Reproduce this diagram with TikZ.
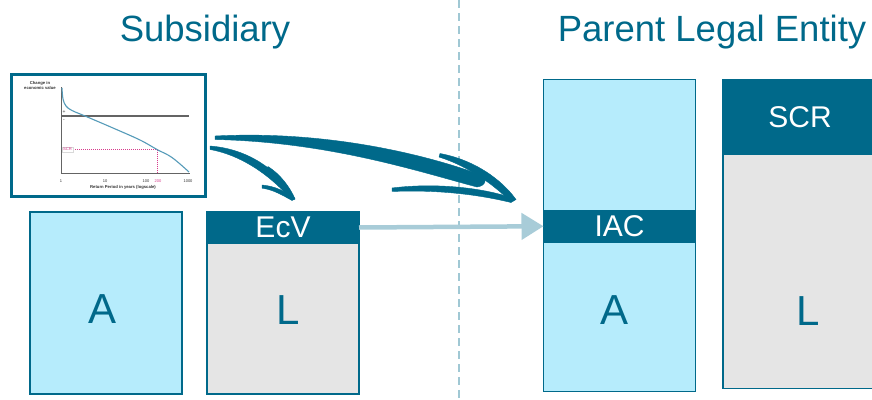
\documentclass[tikz,border=0pt]{standalone}
\usepackage{fontspec}
\setmainfont{Liberation Sans}
\usetikzlibrary{arrows.meta}
\definecolor{teal}{RGB}{0,105,138}
\definecolor{lightblue}{RGB}{182,236,252}
\definecolor{grayfill}{RGB}{229,229,229}
\definecolor{arrowgray}{RGB}{168,204,216}
\definecolor{divider}{RGB}{160,200,212}
\definecolor{curveblue}{RGB}{85,155,185}
\definecolor{scrpink}{RGB}{215,60,140}
\definecolor{axisgray}{RGB}{100,100,100}
\tikzset{
  box/.style={draw=teal, line width=1.8pt, anchor=north west, inner sep=0pt, outer sep=0pt},
  assetbox/.style={box, fill=lightblue},
  liabbox/.style={box, fill=grayfill},
  band/.style={box, fill=teal},
  title/.style={text=teal, font=\fontsize{36.5}{36.5}\selectfont, anchor=base},
  big/.style={text=teal, font=\fontsize{42}{42}\selectfont},
  bandtext/.style={text=white, font=\fontsize{30}{30}\selectfont},
  tiny/.style={font=\fontsize{4.2}{4.6}\selectfont\bfseries, text=black!80, inner sep=0pt, align=center},
  brush/.style={fill=teal, draw=teal, line width=0.4pt, line join=round},
}
\begin{document}
\begin{tikzpicture}[x=1pt, y=-1pt]
\useasboundingbox (0,0) rectangle (872,399);

% divider between the two entities
\draw[divider, line width=1.6pt, dash pattern=on 8pt off 5pt] (459,0) -- (459,399);

% titles
\node[title] (tsub) at (205,41) {Subsidiary};
\node[title] (tpar) at (712,41) {Parent Legal Entity};

% subsidiary balance sheet
\node[assetbox, minimum width=152pt, minimum height=182pt] (subA) at (30,212) {};
\node[big] (subAlab) at (103,309) {A};
\node[liabbox, minimum width=152pt, minimum height=182pt] (subL) at (207,212) {};
\node[band, minimum width=152pt, minimum height=31pt] (ecv) at (207,212) {};
\node[bandtext] (ecvlab) at (ecv.center) {EcV};
\node[big] (subLlab) at (288,310) {L};

% parent balance sheet
\node[assetbox, minimum width=152pt, minimum height=312pt] (parA) at (543.5,79.5) {};
\node[band, minimum width=152pt, minimum height=31.5pt] (iac) at (543.5,210.5) {};
\node[bandtext] (iaclab) at (iac.center) {IAC};
\node[big] (parAlab) at (614,310) {A};
\node[liabbox, minimum width=170pt, minimum height=309pt] (parL) at (723,79.5) {};
\node[band, minimum width=170pt, minimum height=75pt] (scr) at (723,79.5) {};
\node[bandtext] (scrlab) at (800,117) {SCR};
\node[big] (parLlab) at (808,311) {L};

% transfer of EcV into the parent as IAC
\draw[arrowgray, line width=4.5pt, -{Triangle[length=22pt, width=26pt]}]
  (ecv.east) -- (iac.west);

% return-period chart
\node[draw=teal, line width=2.5pt, fill=white, anchor=north west, minimum width=194pt, minimum height=122pt, inner sep=0pt] (chart) at (10,73) {};
\draw[axisgray, line width=0.9pt] (61,87) -- (61,173) -- (190,173);
\draw[axisgray, line width=1.1pt] (61,116) -- (189,116);
\draw[scrpink, line width=0.7pt, dash pattern=on 1.2pt off 0.8pt] (73,149.5) -- (157,149.5) -- (157,173);
\node[draw=black!15, line width=0.3pt, fill=white, inner sep=0.8pt, text=scrpink, font=\fontsize{4.2}{4.2}\selectfont] (scrtag) at (67.5,149.5) {SCR};
\draw[curveblue, line width=1.1pt] plot[smooth, tension=0.6] coordinates
  {(62,88) (63,99) (66,106) (72,110.5) (85,116) (113,128) (140,140) (157,149.5) (172,157.5) (189,172)};
\node[tiny] (ylab) at (40,85.5) {Change in\\economic value};
\node[tiny, font=\fontsize{5}{5}\selectfont] (plus) at (64,112) {+};
\node[tiny, font=\fontsize{5}{5}\selectfont] (minus) at (64,120.5) {-};
\node[tiny, font=\fontsize{4}{4}\selectfont] (t1) at (61,181.5) {1};
\node[tiny, font=\fontsize{4}{4}\selectfont] (t10) at (105,181.5) {10};
\node[tiny, font=\fontsize{4}{4}\selectfont] (t100) at (146,181.5) {100};
\node[tiny, font=\fontsize{4}{4}\selectfont, text=scrpink] (t200) at (158,181.5) {200};
\node[tiny, font=\fontsize{4}{4}\selectfont] (t1000) at (188,181.5) {1000};
\node[tiny] (xlab) at (123,187.5) {Return Period in years (logscale)};

% hand-drawn arrow into the subsidiary liabilities
\coordinate (tipS) at (295,199);
\fill[brush] (210,146) .. controls (250,149) and (280,172) .. (tipS)
  -- (291,199) .. controls (274,180) and (246,156) .. (210,149.5) -- cycle;
\fill[brush] (268,166.5) .. controls (280,174) and (290,187) .. (tipS)
  -- (291.5,199.5) .. controls (284,189) and (275,178) .. (266.5,169) -- cycle;
\fill[brush] (262,185) .. controls (275,186) and (287,192) .. (tipS)
  -- (292,200.5) .. controls (283,195.5) and (273,189.5) .. (262,188.2) -- cycle;

% hand-drawn arrow into the parent
\coordinate (tipP) at (516,199.5);
\fill[brush] (215,136) .. controls (330,130) and (430,156) .. (481,175)
  .. controls (488,178) and (486,186) .. (477,187)
  .. controls (420,172) and (330,142) .. (215,139.5) -- cycle;
\fill[brush] (440,153.5) .. controls (475,160) and (502,180) .. (tipP)
  -- (510,201) .. controls (494,185) and (468,166) .. (439,157) -- cycle;
\fill[brush] (392,188) .. controls (440,182) and (490,189) .. (tipP)
  -- (511,202.5) .. controls (480,195) and (440,189.5) .. (392,191.5) -- cycle;
\end{tikzpicture}
\end{document}
